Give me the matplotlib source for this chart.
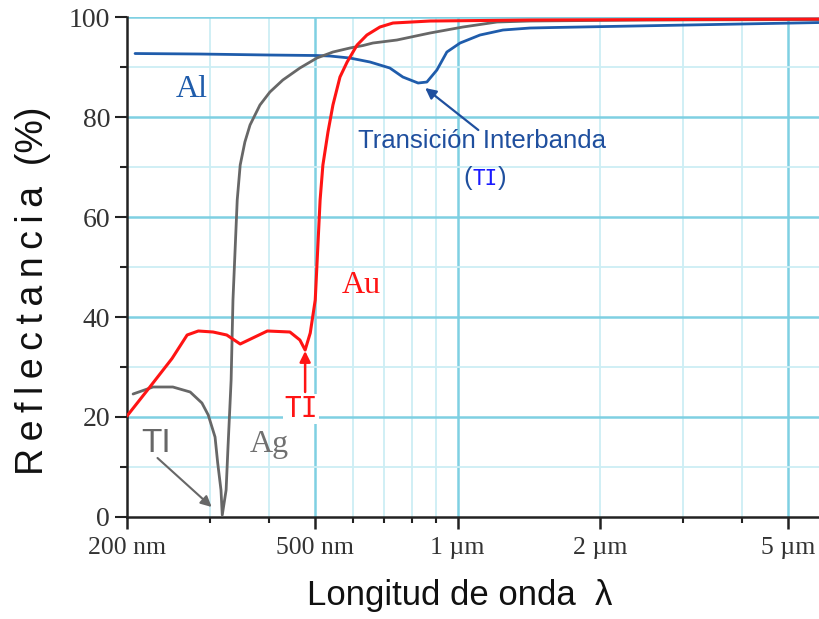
import numpy as np
import matplotlib
matplotlib.use("Agg")
import matplotlib.pyplot as plt
from matplotlib.ticker import FixedLocator, NullFormatter

# ---------------- data ----------------
al_wl = [208, 285, 400, 504, 537, 592, 653, 719, 766, 825, 861, 904, 949, 1012, 1115, 1247,
         1422, 1591, 3055, 5835]
al_r = [92.7, 92.6, 92.4, 92.3, 92.2, 91.8, 91.0, 89.8, 88.0, 86.8, 87.0, 89.4, 93.0, 94.8,
        96.4, 97.4, 97.8, 97.9, 98.4, 98.9]

au_wl = [200, 221, 249, 268, 283, 304, 325, 347, 396, 442, 464, 476, 488, 500, 512, 519, 532,
         545, 564, 584, 613, 643, 685, 730, 874, 1422, 5835]
au_r = [20.2, 25.4, 31.7, 36.4, 37.2, 37.0, 36.4, 34.6, 37.2, 37.0, 35.4, 33.4, 36.8, 43.4,
        63.4, 70.4, 77.0, 82.4, 88.0, 91.0, 94.4, 96.4, 98.0, 98.8, 99.2, 99.4, 99.6]

ag_wl = [206, 227, 250, 272, 288, 297, 307, 311, 316, 318, 324, 327, 330, 332, 335, 342, 347,
         355, 364, 382, 401, 427, 464, 504, 545, 592, 631, 662, 744, 874, 1026, 1211, 1422,
         2500, 5835]
ag_r = [24.6, 26.0, 26.0, 25.0, 22.8, 20.4, 16.0, 10.8, 5.4, 0.4, 5.4, 14.0, 22.0, 27.4, 43.4,
        63.4, 70.4, 75.0, 78.4, 82.4, 85.0, 87.4, 89.8, 91.8, 93.0, 93.8, 94.3, 94.8, 95.4,
        96.8, 98.0, 99.0, 99.2, 99.4, 99.5]

x_major = [200, 500, 1000, 2000, 5000]
x_major_labels = ["200 nm", "500 nm", "1 µm", "2 µm", "5 µm"]
x_minor = [300, 400, 600, 700, 800, 900, 3000, 4000]
y_major = [0, 20, 40, 60, 80, 100]
y_minor = [10, 30, 50, 70, 90]

# ---------------- figure ----------------
fig = plt.figure(figsize=(8.2, 6.19), dpi=100)
ax = fig.add_axes([0.1549, 0.1648, 0.8451, 0.8077])
ax.set_xscale("log")
ax.set_xlim(200, 5837)
ax.set_ylim(0, 100)

major_grid = "#7fd0e2"
minor_grid = "#cdeef4"
for v in [300, 400, 600, 700, 800, 900, 2000, 3000, 4000]:
    ax.axvline(v, color=minor_grid, lw=1.3, zorder=0)
for v in [500, 1000, 5000]:
    ax.axvline(v, color=major_grid, lw=1.8, zorder=0)
for v in y_minor:
    ax.axhline(v, color=minor_grid, lw=1.3, zorder=0)
for v in y_major[1:]:
    ax.axhline(v, color=major_grid, lw=1.8, zorder=0)

c_al = "#1f5cab"
c_au = "#ff1414"
c_ag = "#676767"
ax.plot(al_wl, al_r, color=c_al, lw=2.0, solid_joinstyle="round", solid_capstyle="round", zorder=3)
ax.plot(ag_wl, ag_r, color=c_ag, lw=2.0, solid_joinstyle="round", solid_capstyle="round", zorder=3)
ax.plot(au_wl, au_r, color=c_au, lw=2.2, solid_joinstyle="round", solid_capstyle="round", zorder=4)

for s in ["top", "right"]:
    ax.spines[s].set_visible(False)
for s in ["left", "bottom"]:
    ax.spines[s].set_linewidth(1.8)
    ax.spines[s].set_color("#222222")

ax.xaxis.set_major_locator(FixedLocator(x_major))
ax.set_xticklabels(x_major_labels)
ax.xaxis.set_minor_locator(FixedLocator(x_minor))
ax.xaxis.set_minor_formatter(NullFormatter())
ax.yaxis.set_major_locator(FixedLocator(y_major))
ax.yaxis.set_minor_locator(FixedLocator(y_minor))
ax.tick_params(axis="x", which="major", length=8.5, width=1.8, direction="out", color="#222222",
               labelsize=18.5, pad=6)
ax.tick_params(axis="x", which="minor", length=4.3, width=1.5, direction="out", color="#222222")
ax.tick_params(axis="y", which="major", length=8.6, width=1.5, direction="out", color="#222222",
               labelsize=20, pad=3.5)
ax.tick_params(axis="y", which="minor", length=5, width=1.5, direction="out", color="#222222")
for lab in ax.get_xticklabels() + ax.get_yticklabels():
    lab.set_fontfamily("Liberation Serif")
    lab.set_color("#333333")

# axis labels
thin = "\u2009"
ylab = thin.join("Reflectancia") + "  (%)"
fig.text(0.040, 0.531, ylab, rotation=90, ha="center", va="center",
         fontsize=27, family=["Liberation Sans", "DejaVu Sans"], color="#111111")
fig.text(0.560, 0.0226, "Longitud de onda  λ", ha="center", va="baseline",
         fontsize=25, family=["Liberation Sans", "DejaVu Sans"], color="#111111")

# annotations
ax.text(274, 84.1, "Al", color=c_al, fontsize=23, family="Liberation Serif", ha="center", va="baseline")
ax.text(626, 44.8, "Au", color=c_au, fontsize=23, family="Liberation Serif", ha="center", va="baseline")
ax.text(399, 13.0, "Ag", color="#707070", fontsize=23, family="Liberation Serif", ha="center", va="baseline")

ax.text(230, 13.0, "TI", color=c_ag, fontsize=24, family="Liberation Sans", ha="center", va="baseline")
ax.annotate("", xy=(302, 2.0), xytext=(232, 11.8),
            arrowprops=dict(arrowstyle="-|>", color=c_ag, lw=1.5, mutation_scale=16,
                            shrinkA=0, shrinkB=0))

ax.text(467, 20.0, "TI", color=c_au, fontsize=20, family="DejaVu Sans Mono", ha="center", va="baseline",
        bbox=dict(boxstyle="square,pad=0.05", fc="white", ec="none"), zorder=5)
ax.annotate("", xy=(476, 33.2), xytext=(476, 25.0),
            arrowprops=dict(arrowstyle="-|>", color=c_au, lw=1.8, mutation_scale=16,
                            shrinkA=0, shrinkB=0), zorder=5)

c_ti = "#1f4f9e"
ax.annotate("", xy=(854, 85.8), xytext=(1106, 77.4),
            arrowprops=dict(arrowstyle="-|>", color=c_ti, lw=1.6, mutation_scale=16,
                            shrinkA=0, shrinkB=0), zorder=5)
ax.text(1124, 73.8, "Transición Interbanda", color=c_ti, fontsize=18.5, family="Liberation Sans",
        ha="center", va="baseline", zorder=5)
ax.annotate("(", xy=(1142, 66.4), xytext=(-9.5, 0), textcoords="offset points", color=c_ti,
            fontsize=18.5, family="Liberation Sans", ha="right", va="baseline")
ax.text(1142, 66.4, "TI", color="#1a1aff", fontsize=15, family="DejaVu Sans Mono",
        ha="center", va="baseline")
ax.annotate(")", xy=(1142, 66.4), xytext=(9.5, 0), textcoords="offset points", color=c_ti,
            fontsize=18.5, family="Liberation Sans", ha="left", va="baseline")

fig.savefig("out.png", dpi=100, facecolor="white")
